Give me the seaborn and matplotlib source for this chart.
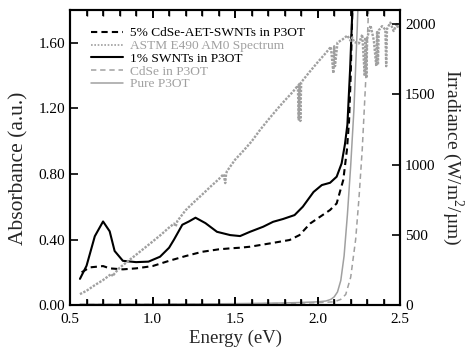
import matplotlib
matplotlib.use("Agg")
import matplotlib.pyplot as plt
import seaborn as sns
import pandas as pd

# absorbance curves (energy in eV, absorbance in a.u.)
e_swnt = [0.56, 0.60, 0.65, 0.70, 0.74, 0.77, 0.82, 0.90, 0.975, 1.045, 1.10, 1.13,
          1.18, 1.22, 1.26, 1.32, 1.39, 1.47, 1.53, 1.59, 1.67, 1.73, 1.79, 1.86,
          1.91, 1.975, 2.025, 2.075, 2.115, 2.145, 2.165, 2.18, 2.197, 2.21, 2.22]
a_swnt = [0.16, 0.24, 0.42, 0.51, 0.45, 0.33, 0.27, 0.262, 0.265, 0.295, 0.35, 0.40,
          0.49, 0.51, 0.533, 0.50, 0.447, 0.427, 0.421, 0.447, 0.478, 0.508, 0.525, 0.549,
          0.60, 0.69, 0.732, 0.746, 0.783, 0.864, 0.98, 1.10, 1.45, 1.80, 2.10]

e_cdse_swnt = [0.57, 0.62, 0.70, 0.74, 0.82, 0.90, 1.00, 1.10, 1.20, 1.30, 1.40, 1.47,
               1.53, 1.59, 1.71, 1.83, 1.89, 1.955, 2.015, 2.075, 2.115, 2.155, 2.177,
               2.19, 2.20, 2.21, 2.222]
a_cdse_swnt = [0.20, 0.23, 0.238, 0.224, 0.218, 0.224, 0.238, 0.27, 0.299, 0.325, 0.34, 0.346,
               0.35, 0.356, 0.376, 0.397, 0.427, 0.498, 0.539, 0.58, 0.62, 0.763, 0.946,
               1.12, 1.40, 1.80, 2.10]

e_cdse = [0.56, 0.80, 1.00, 1.20, 1.40, 1.60, 1.80, 2.00, 2.10, 2.14, 2.17, 2.20,
          2.23, 2.25, 2.27, 2.29, 2.31, 2.33]
a_cdse = [0.004, 0.004, 0.005, 0.006, 0.007, 0.008, 0.010, 0.015, 0.02, 0.035, 0.065, 0.17,
          0.40, 0.65, 0.95, 1.35, 1.85, 2.40]

e_p3ot = [0.56, 0.80, 1.00, 1.20, 1.40, 1.60, 1.80, 1.90, 2.00, 2.05, 2.08, 2.10,
          2.12, 2.14, 2.16, 2.18, 2.20, 2.22, 2.24, 2.26]
a_p3ot = [0.005, 0.005, 0.006, 0.007, 0.008, 0.010, 0.013, 0.016, 0.020, 0.025, 0.035, 0.05,
          0.08, 0.15, 0.30, 0.55, 0.85, 1.20, 1.70, 2.30]

# ASTM E490 AM0 spectrum (W/m^2/um)
e_am0 = [0.56, 0.60, 0.65, 0.70, 0.75, 0.76, 0.77, 0.80, 0.85, 0.90, 0.95, 1.00,
         1.05, 1.10, 1.13, 1.14, 1.15, 1.20, 1.25, 1.30, 1.35, 1.40, 1.43, 1.44,
         1.445, 1.45, 1.50, 1.55, 1.60, 1.65, 1.70, 1.75, 1.80, 1.85, 1.88, 1.885,
         1.89, 1.895, 1.90, 1.95, 2.00, 2.05, 2.08, 2.095, 2.10, 2.105, 2.12, 2.15,
         2.18, 2.20, 2.21, 2.22, 2.25, 2.27, 2.285, 2.29, 2.295, 2.30, 2.32, 2.34,
         2.355, 2.36, 2.365, 2.37, 2.39, 2.41, 2.415, 2.42, 2.44, 2.46, 2.48, 2.49]
irr_am0 = [78, 102, 142, 178, 222, 205, 226, 265, 312, 358, 405, 452,
           500, 552, 580, 560, 598, 675, 732, 786, 842, 895, 932, 868,
           930, 952, 1035, 1098, 1165, 1245, 1318, 1388, 1455, 1518, 1562, 1320,
           1575, 1310, 1585, 1658, 1728, 1795, 1838, 1650, 1842, 1700, 1868, 1890,
           1918, 1880, 1905, 1872, 1862, 1925, 1630, 1905, 1615, 1900, 1990, 1885,
           1700, 1950, 1710, 1955, 1985, 1960, 1700, 1965, 2010, 1950, 2000, 1965]

x_major = [0.5, 1.0, 1.5, 2.0, 2.5]
x_minor = [0.6, 0.7, 0.8, 0.9, 1.1, 1.2, 1.3, 1.4, 1.6, 1.7, 1.8, 1.9, 2.1, 2.2, 2.3, 2.4]
y_left = [0, 0.4, 0.8, 1.2, 1.6]
y_left_labels = ["0.00", "0.40", "0.80", "1.20", "1.60"]
y_right = [0, 500, 1000, 1500, 2000]

sns.set_style("ticks", {"axes.axisbelow": False})
plt.rcParams.update({
    "font.family": ["Liberation Serif", "DejaVu Serif"],
    "mathtext.fontset": "custom",
    "mathtext.rm": "Liberation Serif",
    "xtick.direction": "in", "ytick.direction": "in",
    "xtick.major.size": 6, "xtick.minor.size": 4, "ytick.major.size": 6,
    "xtick.major.width": 1.2, "xtick.minor.width": 1.2, "ytick.major.width": 1.2,
    "xtick.color": "black", "ytick.color": "black",
    "xtick.top": True, "xtick.bottom": True,
})

grey = "#a0a0a0"

fig, ax = plt.subplots(figsize=(4.67, 3.56), dpi=100)
fig.subplots_adjust(left=0.150, right=0.857, bottom=0.143, top=0.972)

df_swnt = pd.DataFrame({"E": e_swnt, "A": a_swnt})
df_cs = pd.DataFrame({"E": e_cdse_swnt, "A": a_cdse_swnt})
df_cdse = pd.DataFrame({"E": e_cdse, "A": a_cdse})
df_p3ot = pd.DataFrame({"E": e_p3ot, "A": a_p3ot})
df_am0 = pd.DataFrame({"E": e_am0, "I": irr_am0})

sns.lineplot(data=df_p3ot, x="E", y="A", ax=ax, color=grey, lw=1.1, sort=False)
sns.lineplot(data=df_cdse, x="E", y="A", ax=ax, color=grey, lw=1.1,
             linestyle=(0, (3.5, 2.5)), sort=False)
sns.lineplot(data=df_cs, x="E", y="A", ax=ax, color="black", lw=1.5,
             linestyle=(0, (3, 2)), sort=False)
sns.lineplot(data=df_swnt, x="E", y="A", ax=ax, color="black", lw=1.5, sort=False)

ax.set_xlim(0.5, 2.5)
ax.set_ylim(0, 1.8)
ax.set_xticks(x_major)
ax.set_xticks(x_minor, minor=True)
ax.set_yticks(y_left)
ax.set_yticklabels(y_left_labels)
ax.xaxis.set_tick_params(which="major", length=6, width=1.2, color="black",
                         direction="in", top=True, bottom=True, labelsize=11, pad=6)
ax.xaxis.set_tick_params(which="minor", length=4, width=1.2, color="black",
                         direction="in", top=True, bottom=True)
ax.yaxis.set_tick_params(direction="in", length=6, width=1.2, color="black", labelsize=11)

# inward x tick marks, bottom and top, drawn as short segments in axes fraction
xt = ax.get_xaxis_transform()
ax.vlines(x_major, 0, 0.028, transform=xt, colors="black", lw=1.2, clip_on=False, zorder=6)
ax.vlines(x_major, 0.972, 1, transform=xt, colors="black", lw=1.2, clip_on=False, zorder=6)
ax.vlines(x_minor, 0, 0.019, transform=xt, colors="black", lw=1.0, clip_on=False, zorder=6)
ax.vlines(x_minor, 0.981, 1, transform=xt, colors="black", lw=1.0, clip_on=False, zorder=6)

ax2 = ax.twinx()
sns.lineplot(data=df_am0, x="E", y="I", ax=ax2, color=grey, lw=1.7,
             linestyle=(0, (1, 0.6)), sort=False)
ax2.set_ylim(0, 2100)
ax2.set_yticks(y_right)
ax2.yaxis.set_tick_params(direction="in", length=6, width=1.2, color="black", labelsize=11)
ax2.set_xlabel("")

for a in (ax, ax2):
    for s in a.spines.values():
        s.set_linewidth(1.5)
        s.set_color("black")

ax.set_xlabel("Energy (eV)", fontsize=13.5, labelpad=2)
ax.set_ylabel("Absorbance (a.u.)", fontsize=15.5)
ax.yaxis.set_label_coords(-0.125, 0.465)
ax2.set_ylabel("Irradiance (W/m$^2$/\u00b5m)", fontsize=14, rotation=270, va="bottom")
ax2.yaxis.set_label_coords(1.122, 0.5)

h = [plt.Line2D([], [], color="black", lw=1.5, linestyle=(0, (3, 2))),
     plt.Line2D([], [], color=grey, lw=1.2, linestyle=(0, (1, 1))),
     plt.Line2D([], [], color="black", lw=1.5),
     plt.Line2D([], [], color=grey, lw=1.1, linestyle=(0, (3.5, 2.5))),
     plt.Line2D([], [], color=grey, lw=1.1)]
labels = ["5% CdSe-AET-SWNTs in P3OT", "ASTM E490 AM0 Spectrum", "1% SWNTs in P3OT",
          "CdSe in P3OT", "Pure P3OT"]
leg = ax2.legend(h, labels, loc="upper left", bbox_to_anchor=(0.047, 0.96), frameon=False,
                 fontsize=9.6, handlelength=2.4, handletextpad=0.5, labelspacing=0.03,
                 borderaxespad=0)
for t, c in zip(leg.get_texts(), ["black", grey, "black", grey, grey]):
    t.set_color(c)

fig.savefig("out.png", dpi=100)
